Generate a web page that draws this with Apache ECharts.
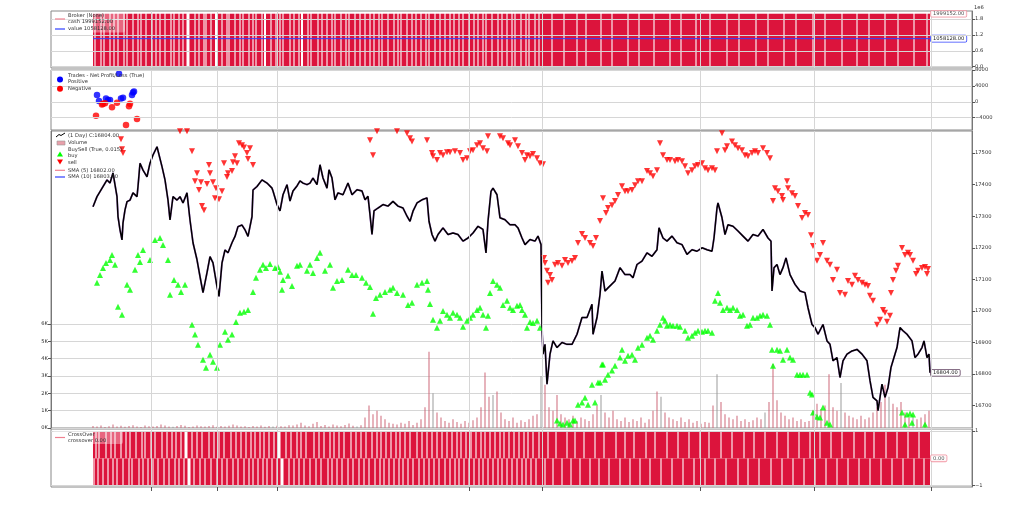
<!DOCTYPE html>
<html><head><meta charset="utf-8">
<script src="https://cdn.jsdelivr.net/npm/echarts@6/dist/echarts.min.js"></script>
<style>html,body{margin:0;padding:0;background:#fff}#c{width:1024px;height:514px}</style>
</head><body><div id="c"></div>
<script>
// ---------------- DATA (t = bar number) ----------------
const priceData = [[0,17330],[4,17362],[7,17378],[10,17394],[14,17415],[17,17405],[20,17437],[24,17362],[25,17299],[27,17257],[29,17225],[30,17279],[32,17320],[34,17346],[37,17351],[40,17374],[44,17362],[45,17394],[47,17468],[50,17446],[54,17425],[57,17468],[60,17494],[64,17520],[66,17525],[69,17457],[72,17415],[75,17351],[77,17288],[80,17362],[84,17351],[87,17362],[90,17342],[94,17374],[97,17288],[100,17216],[104,17162],[107,17109],[110,17058],[114,17121],[117,17172],[120,17152],[124,17077],[126,17046],[129,17152],[132,17193],[135,17184],[139,17216],[142,17236],[145,17267],[149,17272],[152,17257],[155,17236],[159,17299],[160,17383],[164,17394],[169,17415],[174,17405],[179,17389],[180,17380],[184,17337],[187,17317],[190,17368],[194,17400],[197,17348],[200,17380],[204,17396],[207,17412],[210,17405],[214,17400],[217,17405],[220,17421],[224,17400],[227,17463],[230,17421],[234,17389],[236,17447],[239,17421],[242,17352],[245,17374],[250,17368],[255,17405],[259,17368],[264,17384],[269,17380],[272,17352],[275,17363],[277,17305],[279,17242],[281,17317],[285,17326],[290,17337],[295,17332],[300,17347],[305,17332],[310,17326],[314,17300],[317,17284],[320,17316],[324,17342],[329,17352],[334,17358],[336,17284],[339,17242],[342,17221],[345,17242],[350,17263],[355,17242],[360,17247],[365,17242],[370,17221],[375,17231],[380,17247],[385,17268],[390,17258],[393,17184],[395,17284],[398,17379],[400,17389],[404,17368],[407,17295],[412,17289],[417,17273],[422,17273],[425,17263],[429,17231],[432,17210],[437,17226],[442,17221],[445,17237],[448,17210],[449,16947],[450,16863],[452,16894],[454,16768],[457,16863],[460,16905],[464,16884],[469,16900],[474,16894],[479,16894],[484,16926],[489,16979],[494,16979],[499,17021],[500,16926],[504,16979],[507,17052],[509,17126],[512,17063],[515,17073],[517,17073],[522,17095],[527,17137],[532,17115],[537,17115],[540,17105],[544,17147],[549,17158],[554,17184],[559,17173],[564,17194],[566,17263],[570,17231],[574,17221],[579,17237],[584,17216],[589,17210],[594,17179],[599,17194],[604,17189],[609,17200],[614,17194],[619,17189],[621,17231],[624,17326],[625,17342],[629,17295],[632,17242],[635,17273],[640,17268],[645,17253],[650,17237],[655,17221],[660,17242],[665,17237],[670,17258],[675,17231],[678,17221],[679,17063],[681,17137],[684,17147],[687,17115],[690,17137],[693,17168],[697,17115],[702,17084],[707,17063],[712,17058],[715,17010],[719,16957],[722,16947],[725,16926],[730,16957],[734,16905],[737,16894],[740,16842],[744,16852],[747,16789],[750,16842],[754,16863],[759,16873],[764,16878],[769,16863],[774,16842],[777,16779],[780,16726],[784,16715],[785,16684],[789,16768],[792,16726],[795,16757],[798,16821],[800,16842],[804,16884],[807,16947],[810,16937],[814,16926],[819,16905],[822,16852],[825,16863],[829,16884],[831,16905],[834,16852],[836,16863],[837,16804]];

const buyData = [[4,17089],[7,17114],[10,17136],[13,17152],[17,17161],[19,17177],[22,17146],[25,17013],[29,16988],[34,17083],[37,17067],[42,17130],[45,17177],[47,17155],[50,17193],[57,17161],[62,17225],[67,17231],[70,17209],[75,17161],[77,17051],[81,17098],[85,17083],[88,17060],[92,17083],[99,16956],[102,16925],[105,16893],[110,16845],[113,16820],[117,16861],[120,16839],[124,16820],[127,16893],[132,16934],[135,16909],[139,16925],[143,16965],[147,16994],[151,16997],[155,17003],[160,17060],[163,17105],[167,17130],[170,17146],[173,17136],[177,17149],[182,17136],[185,17139],[187,17124],[189,17067],[190,17098],[195,17111],[199,17079],[204,17143],[207,17146],[214,17127],[217,17146],[220,17120],[224,17168],[227,17184],[232,17127],[237,17146],[240,17073],[244,17095],[249,17098],[255,17130],[259,17114],[263,17114],[269,17105],[273,17089],[277,17076],[280,16991],[283,17041],[287,17051],[292,17060],[297,17067],[300,17073],[304,17057],[310,17051],[315,17019],[319,17026],[324,17083],[329,17089],[334,17095],[335,17067],[337,17022],[340,16972],[344,16947],[347,16969],[350,17000],[354,16988],[357,16978],[360,16994],[364,16988],[367,16978],[370,16950],[374,16969],[377,16978],[380,16988],[384,17003],[387,17010],[390,16988],[393,16947],[395,16985],[397,17057],[400,17095],[404,17083],[407,17073],[410,17019],[414,17032],[417,17010],[420,17003],[424,17016],[427,17019],[429,17003],[432,16988],[434,16947],[437,16965],[440,16962],[444,16969],[447,16947],[464,16653],[467,16643],[470,16640],[474,16646],[477,16640],[480,16653],[482,16653],[485,16703],[489,16710],[492,16725],[495,16703],[499,16766],[502,16710],[505,16773],[507,16773],[509,16830],[510,16830],[512,16782],[515,16798],[519,16811],[522,16826],[527,16852],[529,16877],[532,16842],[535,16858],[539,16861],[542,16845],[545,16883],[549,16893],[554,16915],[557,16921],[560,16909],[564,16937],[567,16956],[570,16978],[572,16969],[574,16953],[577,16956],[580,16953],[584,16953],[587,16950],[592,16937],[595,16915],[599,16921],[602,16931],[605,16937],[609,16934],[612,16937],[615,16937],[619,16931],[622,17032],[625,17057],[627,17026],[630,17003],[634,17010],[637,17003],[640,17010],[644,17003],[647,16985],[650,16988],[654,16953],[657,16956],[660,16978],[664,16978],[667,16985],[670,16988],[674,16985],[677,16956],[679,16877],[680,16826],[684,16877],[687,16874],[690,16845],[694,16877],[697,16852],[700,16845],[704,16798],[707,16798],[710,16798],[714,16798],[717,16741],[719,16735],[720,16678],[724,16665],[727,16662],[730,16694],[734,16646],[737,16640],[809,16678],[812,16640],[814,16672],[817,16675],[819,16646],[820,16672],[832,16640]];

const sellData = [[28,17544],[29,17512],[30,17500],[87,17569],[94,17569],[99,17506],[102,17411],[104,17436],[106,17383],[108,17408],[109,17332],[111,17319],[114,17402],[116,17462],[117,17436],[120,17408],[122,17357],[123,17389],[126,17354],[129,17379],[131,17468],[134,17424],[135,17436],[139,17443],[140,17471],[142,17490],[144,17468],[146,17531],[149,17525],[151,17518],[154,17500],[155,17481],[157,17515],[160,17462],[277,17541],[280,17493],[284,17569],[304,17569],[314,17563],[317,17547],[319,17537],[334,17541],[339,17500],[340,17490],[344,17478],[347,17500],[350,17493],[354,17503],[357,17503],[362,17506],[367,17500],[370,17478],[374,17484],[377,17506],[380,17509],[384,17525],[387,17531],[390,17515],[394,17506],[395,17553],[407,17553],[410,17547],[415,17531],[417,17525],[422,17541],[425,17522],[429,17500],[432,17478],[434,17493],[437,17490],[440,17497],[444,17484],[447,17468],[450,17465],[451,17168],[452,17152],[454,17127],[455,17089],[457,17114],[459,17098],[462,17146],[465,17152],[469,17143],[472,17161],[475,17152],[479,17158],[482,17168],[485,17215],[489,17244],[492,17231],[497,17215],[500,17206],[503,17231],[507,17285],[510,17357],[513,17310],[515,17326],[519,17335],[522,17348],[525,17367],[529,17395],[532,17379],[535,17379],[539,17383],[542,17398],[545,17411],[549,17411],[554,17443],[557,17436],[560,17427],[564,17446],[567,17531],[570,17493],[574,17478],[577,17478],[582,17474],[585,17478],[589,17474],[592,17458],[595,17436],[599,17446],[602,17458],[605,17462],[609,17468],[612,17452],[615,17446],[619,17452],[622,17446],[624,17506],[629,17563],[632,17509],[634,17522],[639,17537],[642,17525],[645,17515],[649,17509],[652,17493],[655,17490],[659,17500],[662,17506],[665,17500],[670,17515],[674,17500],[677,17484],[680,17348],[682,17389],[685,17379],[689,17364],[690,17351],[694,17411],[695,17389],[699,17373],[702,17364],[705,17332],[709,17294],[712,17310],[715,17304],[718,17240],[720,17206],[724,17159],[727,17177],[730,17215],[734,17159],[737,17146],[740,17098],[744,17130],[747,17057],[752,17051],[755,17095],[759,17083],[762,17111],[765,17098],[769,17089],[772,17083],[775,17079],[777,17048],[780,17032],[784,16956],[787,16972],[790,17003],[792,16994],[794,16966],[797,16985],[798,17057],[800,17098],[803,17127],[805,17143],[809,17199],[812,17177],[815,17184],[817,17177],[820,17159],[823,17117],[825,17127],[829,17136],[832,17139],[834,17117],[835,17133]];

// volume: one bar every 4 bars starting at bar 0
const volumeValues = [120,80,150,60,100,200,90,130,70,110,160,90,60,140,100,80,120,200,150,90,70,110,180,130,60,90,140,100,80,120,160,70,110,90,130,200,150,80,100,60,120,90,150,70,110,80,130,100,90,160,
140,200,300,150,100,250,350,120,180,90,200,150,100,170,260,130,90,160,
600,1300,800,1000,700,500,300,250,
200,300,250,400,180,300,500,
1200,4400,2000,900,
600,400,300,500,350,250,400,300,450,
600,1200,3200,1800,1900,2100,900,
500,400,600,300,450,350,500,700,800,
3000,2500,1200,1000,1900,800,600,500,700,400,600,500,400,800,1300,1900,900,600,1000,500,400,600,350,500,400,600,300,500,1000,2100,1800,900,600,500,400,600,350,500,300,400,250,350,300,1300,3100,1500,800,600,500,700,400,500,350,450,600,500,900,1500,3700,1600,900,700,500,600,400,500,350,400,1000,1400,1100,1300,3100,1200,1000,2600,900,700,600,500,700,500,600,900,1200,1500,2500,1800,1400,1200,1500,900,600,700,500,600,800,1000];
const volumeBarStep = 4;
const volumeGrayBars = [20,45,66,85,100,112,127,142,156,168,187,199,205];

const tradesPositive = [[4,1729],[6,180],[13,851],[15,439],[17,439],[26,7043],[28,851],[30,1032],[39,1729],[40,2322],[41,2580]];
const tradesNegative = [[3,-3535],[9,-697],[10,-516],[12,-335],[19,-1367],[24,-258],[33,-5857],[36,-1109],[37,-516],[44,-4309]];

const cashHigh = 1999152, cashLow = 20000, valueLevel = 1058128;
const lastBar = 837;
// bars where the crimson fills show a white stripe ([bar, width] for wider ones)
const brokerGaps = [2,8,11,17,21,25,31,34,40,45,48,53,59,63,67,72,78,81,86,90,[95,3],102,106,111,113,118,[123,2],129,134,136,142,147,150,156,160,163,169,[172,2],178,183,187,190,197,201,206,[209,2],215,218,225,229,234,239,242,248,253,256,262,267,272,277,281,286,289,295,301,305,308,314,319,323,328,333,336,342,347,352,357,361,366,370,376,381,385,390,393,399,405,409,414,419,422,428,433,436,442,446,459,471,484,493,508,519,535,546,561,577,588,603,617,634,646,663,675,691,703,720,732,749,764,776,792,805,821,834];
const crossUpGaps = [3,6,13,18,22,28,33,37,43,49,52,58,62,69,74,79,83,88,[93,3],99,104,109,116,121,126,131,138,143,148,153,158,162,167,171,176,181,[186,3],193,198,204,208,213,221,226,231,237,241,246,251,258,263,268,273,279,284,288,293,298,303,307,312,317,324,329,334,339,344,349,354,359,364,368,373,378,383,388,392,397,402,407,411,416,421,426,431,435,440,446,455,463,474,482,491,502,511,523,532,541,553,562,574,585,596,607,616,628,639,651,661,672,684,695,706,717,727,738,749,761,772,781,793,804,815,826];
const crossDownGaps = [1,5,10,15,20,24,30,36,39,46,50,55,60,65,71,76,82,86,91,[96,3],101,107,112,118,124,129,134,140,145,151,156,160,165,170,174,179,184,[189,3],196,201,206,211,217,223,228,235,239,244,249,255,260,266,271,276,282,287,291,296,301,306,310,315,320,326,331,336,341,346,352,357,362,366,371,376,381,386,390,395,400,405,409,414,419,424,429,433,438,443,452,460,469,478,487,497,506,516,527,537,547,557,568,579,590,601,612,622,633,645,655,666,678,689,700,711,722,733,744,755,766,777,788,799,810,821,831];

const timeGrid = [58,124,184,376,449,607,721,838];
const priceTicks = [16700,16800,16900,17000,17100,17200,17300,17400,17500];
const volumeTicks = [0,1000,2000,3000,4000,5000,6000];
const brokerTicks = [0,600000,1200000,1800000];
const tradeTicks = [-4000,0,4000,8000];
const crossTicks = [-1,1];

// ---------------- CHART ----------------
const FONT = 'DejaVu Sans';
const FS = 5.2;
const GRIDC = '#d6d6d6';
const CRIMSON = '#dc143c';

function segmentsFromGaps(gaps, t0, t1, lo, hi) {
  const g = gaps.map(x => Array.isArray(x) ? x : [x, 1.1]).sort((a, b) => a[0] - b[0]);
  const segs = []; let s = t0;
  g.forEach(([c, w]) => { if (c - w / 2 > s) segs.push([s, c - w / 2, lo, hi]); s = c + w / 2; });
  if (s < t1) segs.push([s, t1, lo, hi]);
  return segs;
}
function rectRender(color) {
  return function (params, api) {
    const a = api.coord([api.value(0), api.value(3)]);
    const b = api.coord([api.value(1), api.value(2)]);
    return { type: 'rect', shape: { x: a[0], y: a[1], width: b[0] - a[0], height: b[1] - a[1] }, style: { fill: color } };
  };
}
function gridLines(xi, yi, hVals) {
  const data = timeGrid.map(t => ({ xAxis: t })).concat((hVals || []).map(v => ({ yAxis: v })));
  return { type: 'line', xAxisIndex: xi, yAxisIndex: yi, data: [], z: 0, silent: true,
    markLine: { silent: true, symbol: ['none', 'none'], label: { show: false }, animation: false,
      lineStyle: { color: GRIDC, width: 1, type: 'solid' }, emphasis: { disabled: true }, data } };
}
const minus = v => (v < 0 ? '\u2212' + Math.abs(v) : String(v));
function xAx(i, ticks) {
  return { gridIndex: i, type: 'value', min: -42, max: 879, axisLine: { show: false, onZero: false },
    axisTick: ticks ? { show: true, customValues: timeGrid, length: 4, inside: false, lineStyle: { color: '#555' } } : { show: false },
    axisLabel: { show: false }, splitLine: { show: false } };
}
function yAx(i, min, max, ticks, fmt, pos) {
  return { gridIndex: i, type: 'value', position: pos || 'right', min, max,
    axisLine: { show: true, onZero: false, lineStyle: { color: '#777' } },
    axisTick: { show: true, customValues: ticks, length: 3, lineStyle: { color: '#555' } },
    axisLabel: { show: true, customValues: ticks, formatter: fmt, fontSize: FS, fontFamily: FONT, color: '#333', margin: 3 },
    splitLine: { show: false } };
}
const labelBox = (color) => ({ fontSize: FS, fontFamily: FONT, color: '#222', backgroundColor: '#fff',
  borderColor: color, borderWidth: 0.8, borderRadius: 1, padding: [1, 2, 0, 2] });

const volumeData = volumeValues.map((v, i) => [i * volumeBarStep, v, volumeGrayBars.includes(i) ? 1 : 0]);

// legend graphics
const G = [];
const box = (x, y, w, h) => G.push({ type: 'rect', silent: true, shape: { x, y, width: w, height: h, r: 2 }, style: { fill: 'rgba(255,255,255,0.35)' }, z: 99 });
const txt = (x, y, s) => G.push({ type: 'text', x, y, silent: true, style: { text: s, font: FS + 'px "' + FONT + '"', fill: '#333', textVerticalAlign: 'middle' }, z: 100 });
const ln = (x1, y1, x2, y2, c, w) => G.push({ type: 'line', silent: true, shape: { x1, y1, x2, y2 }, style: { stroke: c, lineWidth: w || 1 }, z: 100 });
box(53, 12.5, 72, 20); box(53, 430.5, 70, 13.5);
txt(68, 15.5, 'Broker (None)'); txt(68, 22, 'cash 1999152.00'); txt(68, 29, 'value 1058128.00');
ln(55, 19, 65, 19, '#f08090', 1.2); ln(55, 29, 65, 29, '#3040ff', 1.2);
txt(68, 75.5, 'Trades - Net Profit/Loss (True)'); txt(68, 82, 'Positive'); txt(68, 88.7, 'Negative');
G.push({ type: 'circle', silent: true, shape: { cx: 60, cy: 79.5, r: 3 }, style: { fill: '#0000ff' }, z: 100 });
G.push({ type: 'circle', silent: true, shape: { cx: 60, cy: 88.7, r: 3 }, style: { fill: '#ff0000' }, z: 100 });
txt(68, 135.3, '(1 Day) C:16804.00'); txt(68, 143, 'Volume'); txt(68, 149.7, 'BuySell (True, 0.015)');
txt(68, 155.7, 'buy'); txt(68, 162.3, 'sell'); txt(68, 170.3, 'SMA (5) 16802.00'); txt(68, 177, 'SMA (10) 16803.30');
G.push({ type: 'polyline', silent: true, shape: { points: [[56, 137], [59, 134.5], [61, 135.5], [65, 133]] }, style: { stroke: '#000', lineWidth: 1, fill: null }, z: 100 });
G.push({ type: 'rect', silent: true, shape: { x: 57, y: 141, width: 8, height: 4 }, style: { fill: '#e8a0aa', stroke: '#999', lineWidth: 0.6 }, z: 100 });
G.push({ type: 'polygon', silent: true, shape: { points: [[57, 156.5], [63, 156.5], [60, 151.5]] }, style: { fill: '#00ff00' }, z: 100 });
G.push({ type: 'polygon', silent: true, shape: { points: [[57, 159.5], [63, 159.5], [60, 164.5]] }, style: { fill: '#ff0000' }, z: 100 });
ln(55, 170.3, 65, 170.3, '#f08090', 1.2); ln(55, 177, 65, 177, '#3040ff', 1.2);
txt(68, 434.3, 'CrossOver'); txt(68, 440.5, 'crossover 0.00'); ln(55, 437.5, 65, 437.5, '#f08090', 1.2);
G.push({ type: 'text', x: 974, y: 7.5, silent: true, style: { text: '1e6', font: FS + 'px "' + FONT + '"', fill: '#333', textVerticalAlign: 'middle' } });

const grids = [
  { left: 51, right: 52, top: 11, height: 57 },
  { left: 51, right: 52, top: 70, height: 60 },
  { left: 51, right: 52, top: 131, height: 297 },
  { left: 51, right: 52, top: 429, height: 58 }
].map(g => Object.assign(g, { show: true, borderColor: '#888', borderWidth: 1, backgroundColor: 'transparent' }));

const option = {
  animation: false,
  backgroundColor: '#fff',
  grid: grids,
  graphic: { elements: G },
  xAxis: [xAx(0), xAx(1), xAx(2), xAx(3, true)],
  yAxis: [
    yAx(0, -49000, 2102000, brokerTicks, v => (v / 1e6).toFixed(1)),
    yAx(1, -7090, 8000, tradeTicks, minus),
    yAx(2, 16629, 17570, priceTicks, v => String(v)),
    { gridIndex: 2, type: 'value', position: 'left', min: 0, max: 17140, interval: 1000,
      axisLine: { show: true, onZero: false, lineStyle: { color: '#777' } },
      axisTick: { show: true, customValues: volumeTicks, length: 3, lineStyle: { color: '#555' } },
      axisLabel: { show: true, customValues: volumeTicks, formatter: v => (v / 1000) + 'K', fontSize: FS, fontFamily: FONT, color: '#333', margin: 3 },
      splitLine: { show: true, lineStyle: { color: GRIDC, width: 1 } } },
    yAx(3, -1.047, 1.073, crossTicks, minus)
  ],
  series: [
    gridLines(0, 0, brokerTicks),
    { type: 'custom', name: 'cash', xAxisIndex: 0, yAxisIndex: 0, z: 2, silent: true,
      renderItem: rectRender(CRIMSON), encode: { x: [0, 1], y: [2, 3] },
      data: segmentsFromGaps(brokerGaps, 0, lastBar, cashLow, cashHigh) },
    { type: 'line', name: 'value', xAxisIndex: 0, yAxisIndex: 0, z: 3, showSymbol: false, silent: true,
      data: [[0, valueLevel], [lastBar, valueLevel]], lineStyle: { color: '#3040ff', width: 1 },
      endLabel: Object.assign({ show: true, distance: 1, formatter: '1058128.00' }, labelBox('#3040ff')) },
    { type: 'scatter', xAxisIndex: 0, yAxisIndex: 0, symbolSize: 0, z: 5, silent: true,
      data: [[lastBar, cashHigh]],
      label: Object.assign({ show: true, position: 'right', distance: 1, formatter: '1999152.00' }, labelBox('#f08090')) },

    gridLines(1, 1, tradeTicks),
    { type: 'scatter', name: 'Positive', xAxisIndex: 1, yAxisIndex: 1, z: 4, symbolSize: 6.5, silent: true,
      itemStyle: { color: '#0000ff' }, data: tradesPositive },
    { type: 'scatter', name: 'Negative', xAxisIndex: 1, yAxisIndex: 1, z: 4, symbolSize: 6.5, silent: true,
      itemStyle: { color: '#ff0000' }, data: tradesNegative },

    gridLines(2, 2, []),
    { type: 'bar', name: 'Volume', xAxisIndex: 2, yAxisIndex: 3, z: 2, barWidth: 1.6, silent: true,
      data: volumeData,
      itemStyle: { color: p => (p.data[2] ? 'rgba(150,150,150,0.6)' : 'rgba(204,96,115,0.6)') } },
    { type: 'line', name: 'SMA (10)', xAxisIndex: 2, yAxisIndex: 2, z: 3, showSymbol: false, silent: true,
      data: priceData, lineStyle: { color: '#5050ff', width: 1.8, opacity: 0.55 } },
    { type: 'line', name: 'SMA (5)', xAxisIndex: 2, yAxisIndex: 2, z: 3, showSymbol: false, silent: true,
      data: priceData, lineStyle: { color: '#ff6080', width: 1.8, opacity: 0.35 } },
    { type: 'line', name: 'close', xAxisIndex: 2, yAxisIndex: 2, z: 3, showSymbol: false, silent: true,
      data: priceData, lineStyle: { color: '#000', width: 1.5 },
      endLabel: Object.assign({ show: true, distance: 1, formatter: '16804.00' }, labelBox('#604060')) },
    { type: 'scatter', name: 'buy', xAxisIndex: 2, yAxisIndex: 2, z: 4, symbol: 'triangle', symbolSize: [6, 6], silent: true,
      itemStyle: { color: '#00ff00' }, data: buyData },
    { type: 'scatter', name: 'sell', xAxisIndex: 2, yAxisIndex: 2, z: 4, symbol: 'triangle', symbolRotate: 180, symbolSize: [6, 6], silent: true,
      itemStyle: { color: '#ff0000' }, data: sellData },

    gridLines(3, 4, crossTicks),
    { type: 'custom', name: 'crossUp', xAxisIndex: 3, yAxisIndex: 4, z: 2, silent: true,
      renderItem: rectRender(CRIMSON), encode: { x: [0, 1], y: [2, 3] },
      data: segmentsFromGaps(crossUpGaps, 0, lastBar, 0, 1) },
    { type: 'custom', name: 'crossDown', xAxisIndex: 3, yAxisIndex: 4, z: 2, silent: true,
      renderItem: rectRender(CRIMSON), encode: { x: [0, 1], y: [2, 3] },
      data: segmentsFromGaps(crossDownGaps, 0, lastBar, -1, 0) },
    { type: 'scatter', xAxisIndex: 3, yAxisIndex: 4, symbolSize: 0, z: 5, silent: true,
      data: [[lastBar, 0]],
      label: Object.assign({ show: true, position: 'right', distance: 1, formatter: '0.00' }, labelBox('#f08090')) }
  ]
};
const chart = echarts.init(document.getElementById('c'));
chart.setOption(option);
</script>
</body></html>
